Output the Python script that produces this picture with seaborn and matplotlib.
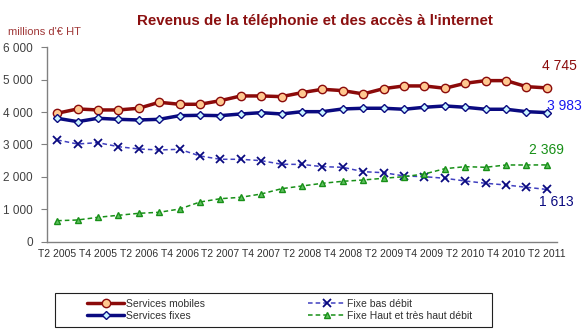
import matplotlib
matplotlib.use("Agg")
import matplotlib.pyplot as plt
from matplotlib.ticker import FuncFormatter, FixedLocator
from matplotlib.patches import Rectangle
import seaborn as sns
import pandas as pd

quarters = [f"T{q} {y}" for y, q in
            [(2005, 2), (2005, 3), (2005, 4), (2006, 1), (2006, 2), (2006, 3), (2006, 4),
             (2007, 1), (2007, 2), (2007, 3), (2007, 4), (2008, 1), (2008, 2), (2008, 3),
             (2008, 4), (2009, 1), (2009, 2), (2009, 3), (2009, 4), (2010, 1), (2010, 2),
             (2010, 3), (2010, 4), (2011, 1), (2011, 2)]]

mobiles = [3963, 4096, 4065, 4065, 4117, 4302, 4240, 4240, 4352, 4497, 4497, 4476, 4600,
           4703, 4661, 4559, 4723, 4806, 4806, 4734, 4888, 4970, 4970, 4784, 4745]
fixes = [3808, 3704, 3808, 3776, 3756, 3776, 3889, 3900, 3889, 3941, 3981, 3941, 4012,
         4012, 4096, 4117, 4117, 4086, 4148, 4188, 4148, 4086, 4086, 4012, 3983]
bas_debit = [3139, 3015, 3056, 2932, 2861, 2830, 2852, 2645, 2543, 2543, 2500, 2389, 2385,
             2315, 2296, 2160, 2130, 2028, 2006, 1957, 1873, 1802, 1750, 1679, 1613]
haut_debit = [648, 670, 753, 815, 876, 907, 1009, 1225, 1327, 1370, 1472, 1636, 1719,
              1802, 1864, 1904, 1957, 2006, 2090, 2253, 2315, 2296, 2367, 2367, 2369]

df = pd.DataFrame({
    "idx": range(len(quarters)),
    "Services mobiles": mobiles,
    "Services fixes": fixes,
    "Fixe bas débit": bas_debit,
    "Fixe Haut et très haut débit": haut_debit,
})

sns.set_theme(style="white")
plt.rcParams["font.family"] = ["Liberation Sans", "DejaVu Sans"]

fig = plt.figure(figsize=(5.87, 3.35), dpi=100)
ax = fig.add_axes([0.080, 0.2785, 0.869, 0.5805])

RED = "#8B0A0A"
NAVY = "#0A0A80"
GREEN = "#189018"

sns.lineplot(data=df, x="idx", y="Services mobiles", ax=ax, color=RED, lw=2.5,
             marker="o", markersize=6, markerfacecolor="#FFC890",
             markeredgecolor=RED, markeredgewidth=1.0, label="Services mobiles")
sns.lineplot(data=df, x="idx", y="Services fixes", ax=ax, color=NAVY, lw=2.5,
             marker="D", markersize=4.2, markerfacecolor="#C8F4FF",
             markeredgecolor=NAVY, markeredgewidth=1.0, label="Services fixes")
sns.lineplot(data=df, x="idx", y="Fixe bas débit", ax=ax, color="#4040C0", lw=1.1,
             linestyle=(0, (3, 2)), marker="x", markersize=6,
             markeredgecolor=NAVY, markeredgewidth=1.3, label="Fixe bas débit")
sns.lineplot(data=df, x="idx", y="Fixe Haut et très haut débit", ax=ax, color=GREEN,
             lw=1.1, linestyle=(0, (3, 2)), marker="^", markersize=4.5,
             markerfacecolor="#60C060", markeredgecolor=GREEN, markeredgewidth=1.0,
             label="Fixe Haut et très haut débit")

ax.set_xlim(-0.5, len(quarters) - 0.5)
ax.set_ylim(0, 6000)
ax.set_xlabel("")
ax.set_ylabel("")

# x axis: labels every other quarter, tick marks on category boundaries
label_pos = list(range(0, len(quarters), 2))
ax.xaxis.set_major_locator(FixedLocator(label_pos))
ax.set_xticklabels([quarters[i] for i in label_pos])
ax.xaxis.set_minor_locator(FixedLocator([i - 0.5 for i in range(len(quarters) + 1)]))
ax.tick_params(axis="x", which="major", length=0, pad=5, labelsize=7.5, labelcolor="#303030")
ax.tick_params(axis="x", which="minor", length=4, width=0.8, color="#808080", direction="out")

ax.set_yticks(range(0, 6001, 1000))
ax.yaxis.set_major_formatter(FuncFormatter(lambda v, p: f"{int(v):,}".replace(",", " ")))
ax.tick_params(axis="y", length=4, width=0.8, color="#808080", direction="out",
               labelsize=8.5, labelcolor="#404040", pad=6, left=True)

for s in ["top", "right"]:
    ax.spines[s].set_visible(False)
for s in ["left", "bottom"]:
    ax.spines[s].set_color("#808080")
    ax.spines[s].set_linewidth(1.0)

last = len(quarters) - 1
ax.annotate(f"{mobiles[-1]:,}".replace(",", " "), (last, mobiles[-1]), xytext=(9, 16),
            textcoords="offset points", ha="center", va="center", color=RED, fontsize=10)
ax.annotate(f"{fixes[-1]:,}".replace(",", " "), (last, fixes[-1]), xytext=(0, 5),
            textcoords="offset points", ha="left", va="center", color="#1818F0", fontsize=10)
ax.annotate(f"{haut_debit[-1]:,}".replace(",", " "), (last, haut_debit[-1]), xytext=(0, 10.5),
            textcoords="offset points", ha="center", va="center", color=GREEN, fontsize=10)
ax.annotate(f"{bas_debit[-1]:,}".replace(",", " "), (last, bas_debit[-1]), xytext=(6.5, -9),
            textcoords="offset points", ha="center", va="center", color=NAVY, fontsize=10)

fig.text(0.537, 0.938, "Revenus de la téléphonie et des accès à l'internet",
         ha="center", va="center", fontsize=10.9, fontweight="bold", color="#8B1010")
fig.text(0.013, 0.903, "millions d'€ HT", ha="left", va="center", fontsize=8,
         color="#A03838")

# legend: entries inset inside a wider box
handles, labels = ax.get_legend_handles_labels()
ax.get_legend().remove()
fig.patches.append(Rectangle((0.094, 0.024), 0.744, 0.102, transform=fig.transFigure,
                             fill=False, edgecolor="#202020", linewidth=0.8))
leg = fig.legend(handles, labels, ncol=2, loc="center left",
                 bbox_to_anchor=(0.148, 0.075), frameon=False,
                 fontsize=7.5, handlelength=3.6, handletextpad=0.15, borderaxespad=0,
                 labelspacing=0.2, borderpad=0, columnspacing=9.9)
for t in leg.get_texts():
    t.set_color("#303030")

fig.savefig("out.png", dpi=100)
